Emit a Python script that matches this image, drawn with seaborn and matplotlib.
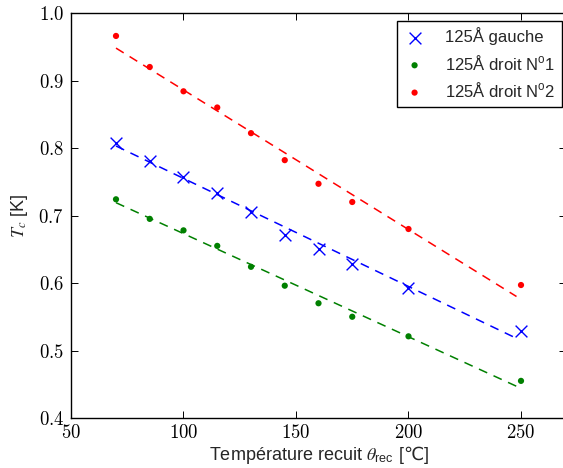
import numpy as np
import pandas as pd
import matplotlib
matplotlib.use("Agg")
import matplotlib.pyplot as plt
import seaborn as sns

# annealing temperatures (degC)
temps = [70, 85, 100, 115, 130, 145, 160, 175, 200, 250]

# critical temperature Tc (K) for each sample
tc_gauche = [0.808, 0.781, 0.757, 0.734, 0.705, 0.671, 0.651, 0.628, 0.593, 0.529]
tc_droit1 = [0.724, 0.695, 0.678, 0.655, 0.624, 0.596, 0.570, 0.550, 0.521, 0.455]
tc_droit2 = [0.966, 0.920, 0.884, 0.860, 0.822, 0.782, 0.747, 0.720, 0.680, 0.597]

# linear fits (end points)
fit_x = [70, 248]
fit_gauche = [0.803, 0.518]
fit_droit1 = [0.719, 0.447]
fit_droit2 = [0.948, 0.580]

labels = ["125Å gauche", "125Å droit N$^{\\mathsf{o}}$1", "125Å droit N$^{\\mathsf{o}}$2"]

sns.set_theme(style="ticks")
plt.rcParams["font.family"] = ["Liberation Sans", "DejaVu Sans"]
plt.rcParams["mathtext.fontset"] = "custom"
plt.rcParams["mathtext.rm"] = "DejaVu Sans"   # only used for the degree-celsius sign
plt.rcParams["mathtext.sf"] = "Liberation Sans"
plt.rcParams["mathtext.it"] = "STIXGeneral:italic"
plt.rcParams["mathtext.fallback"] = "stixsans"
plt.rcParams["axes.formatter.use_mathtext"] = True
plt.rcParams["lines.scale_dashes"] = False

fig = plt.figure(figsize=(5.63, 4.68), dpi=100)
ax = fig.add_axes([71 / 563, 1 - 418 / 468, 495 / 563, 405 / 468])

dash = (0, (6.5, 5))
sns.lineplot(x=fit_x, y=fit_gauche, color="#0000ff", lw=1.1, linestyle=dash, ax=ax, legend=False)
sns.lineplot(x=fit_x, y=fit_droit1, color="#008000", lw=1.1, linestyle=dash, ax=ax, legend=False)
sns.lineplot(x=fit_x, y=fit_droit2, color="#ff0000", lw=1.1, linestyle=dash, ax=ax, legend=False)

sns.scatterplot(x=temps, y=tc_gauche, marker="x", s=72, color="#0000ff", linewidth=1.0,
                label=labels[0], ax=ax, zorder=3)
sns.scatterplot(x=temps, y=tc_droit1, marker="o", s=20, color="#008000", edgecolor="none",
                label=labels[1], ax=ax, zorder=3)
sns.scatterplot(x=temps, y=tc_droit2, marker="o", s=20, color="#ff0000", edgecolor="none",
                label=labels[2], ax=ax, zorder=3)

ax.set_xlim(50, 270)
ax.set_ylim(0.4, 1.0)
ax.set_xticks([50, 100, 150, 200, 250])
ax.set_yticks([0.4, 0.5, 0.6, 0.7, 0.8, 0.9, 1.0])

for sp in ax.spines.values():
    sp.set_visible(True)
    sp.set_linewidth(1.0)
    sp.set_color("black")

ax.tick_params(axis="both", direction="in", top=True, right=True, length=4.8, width=0.7,
               color="black", labelsize=13.5, labelfontfamily="cmr10", labelcolor="black")
ax.tick_params(axis="y", pad=5)
ax.tick_params(axis="x", pad=4)

ax.set_xlabel("Température recuit $\\theta_{\\mathsf{rec}}$ [$\\mathrm{℃}$]", fontsize=13, labelpad=2)
ax.set_ylabel("$T_c$ [K]", fontsize=13, labelpad=6)

leg = ax.legend(loc="upper right", bbox_to_anchor=(561.7 / 563, 1 - 20.7 / 468),
                bbox_transform=fig.transFigure, borderaxespad=0, fontsize=12,
                frameon=True, fancybox=False, edgecolor="black", framealpha=1,
                handlelength=1.36, handletextpad=1.12, borderpad=0.4, labelspacing=0.5,
                scatterpoints=1)
leg.get_frame().set_linewidth(1.0)

fig.savefig("out.png", dpi=100)
